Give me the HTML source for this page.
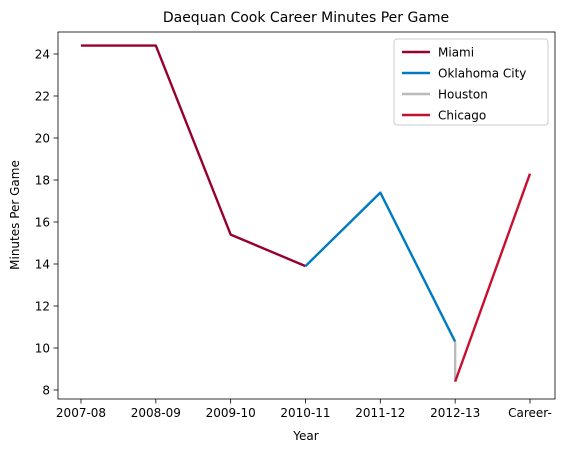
<!DOCTYPE html>
<html><head><meta charset="utf-8"><style>
body{margin:0;background:#fff;font-family:"Liberation Sans","DejaVu Sans",sans-serif;}
svg text{font-family:"DejaVu Sans","Liberation Sans",sans-serif;}
</style></head><body>
<svg id="chart" width="566" height="453" viewBox="0 0 566 453" xmlns="http://www.w3.org/2000/svg">
<text x="306" y="22" font-size="14" text-anchor="middle">Daequan Cook Career Minutes Per Game</text>
<g id="grid"></g>
<g id="series"></g>
<rect x="58" y="32" width="497" height="367" fill="none" stroke="#000" stroke-width="0.8"/>
<text x="306" y="440" font-size="12" text-anchor="middle">Year</text>
<text transform="translate(19,215) rotate(-90)" font-size="12" text-anchor="middle">Minutes Per Game</text>
<g>
<rect x="394" y="39" width="154" height="86" rx="3" fill="#fff" stroke="#ccc"/>
<g id="legend-items"></g>
</g>
</svg>
<script>
const categories = ["2007-08","2008-09","2009-10","2010-11","2011-12","2012-13","Career-"];
const yTicks = [8,10,12,14,16,18,20,22,24];
const seriesNames = ["Miami","Oklahoma City","Houston","Chicago"];
const seriesColors = ["#98002E","#007AC1","#BABABA","#C8102E"];
const miamiX = [0,1,2,3];
const miamiY = [24.4,24.4,15.4,13.9];
const okcX = [3,4,5];
const okcY = [13.9,17.4,10.3];
const houX = [5,5];
const houY = [10.3,8.4];
const chiX = [5,6];
const chiY = [8.4,18.3];

const NS="http://www.w3.org/2000/svg";
const xS = i => 81 + i*74.83;
const yS = v => 390 - (v-8)*21;
function mk(tag, attrs, parent){const e=document.createElementNS(NS,tag);for(const k in attrs)e.setAttribute(k,attrs[k]);parent.appendChild(e);return e;}
const grid=document.getElementById('grid');
categories.forEach((c,i)=>{
  const t=mk('line',{x1:xS(i),x2:xS(i),y1:399,y2:403.5,stroke:'#000','stroke-width':0.8},grid);
  
  
  const l=mk('text',{x:xS(i),y:417,'font-size':12,'text-anchor':'middle'},grid);
  
  
  l.textContent=c;
});
yTicks.forEach(v=>{
  const t=mk('line',{x1:53.5,x2:58,y1:yS(v),y2:yS(v),stroke:'#000','stroke-width':0.8},grid);
  
  
  const l=mk('text',{x:50,y:yS(v)+4.5,'font-size':12,'text-anchor':'end'},grid);
  
  
  l.textContent=v;
});
const ser=document.getElementById('series');
[[miamiX,miamiY],[okcX,okcY],[houX,houY],[chiX,chiY]].forEach((s,k)=>{
  const pts=s[0].map((x,i)=>xS(x)+','+yS(s[1][i])).join(' ');
  const p=mk('polyline',{points:pts,fill:'none',stroke:seriesColors[k],'stroke-width':2.4,'stroke-linejoin':'round'},ser);
  
  
});
const leg=document.getElementById('legend-items');
seriesNames.forEach((n,k)=>{
  const y=52+k*21;
  const g=mk('g',{},leg);
  
  
  mk('line',{x1:402,x2:430,y1:y,y2:y,stroke:seriesColors[k],'stroke-width':2.4},g);
  const t=mk('text',{x:438,y:y+4.5,'font-size':12},g);
  t.textContent=n;
});
</script>
</body></html>
